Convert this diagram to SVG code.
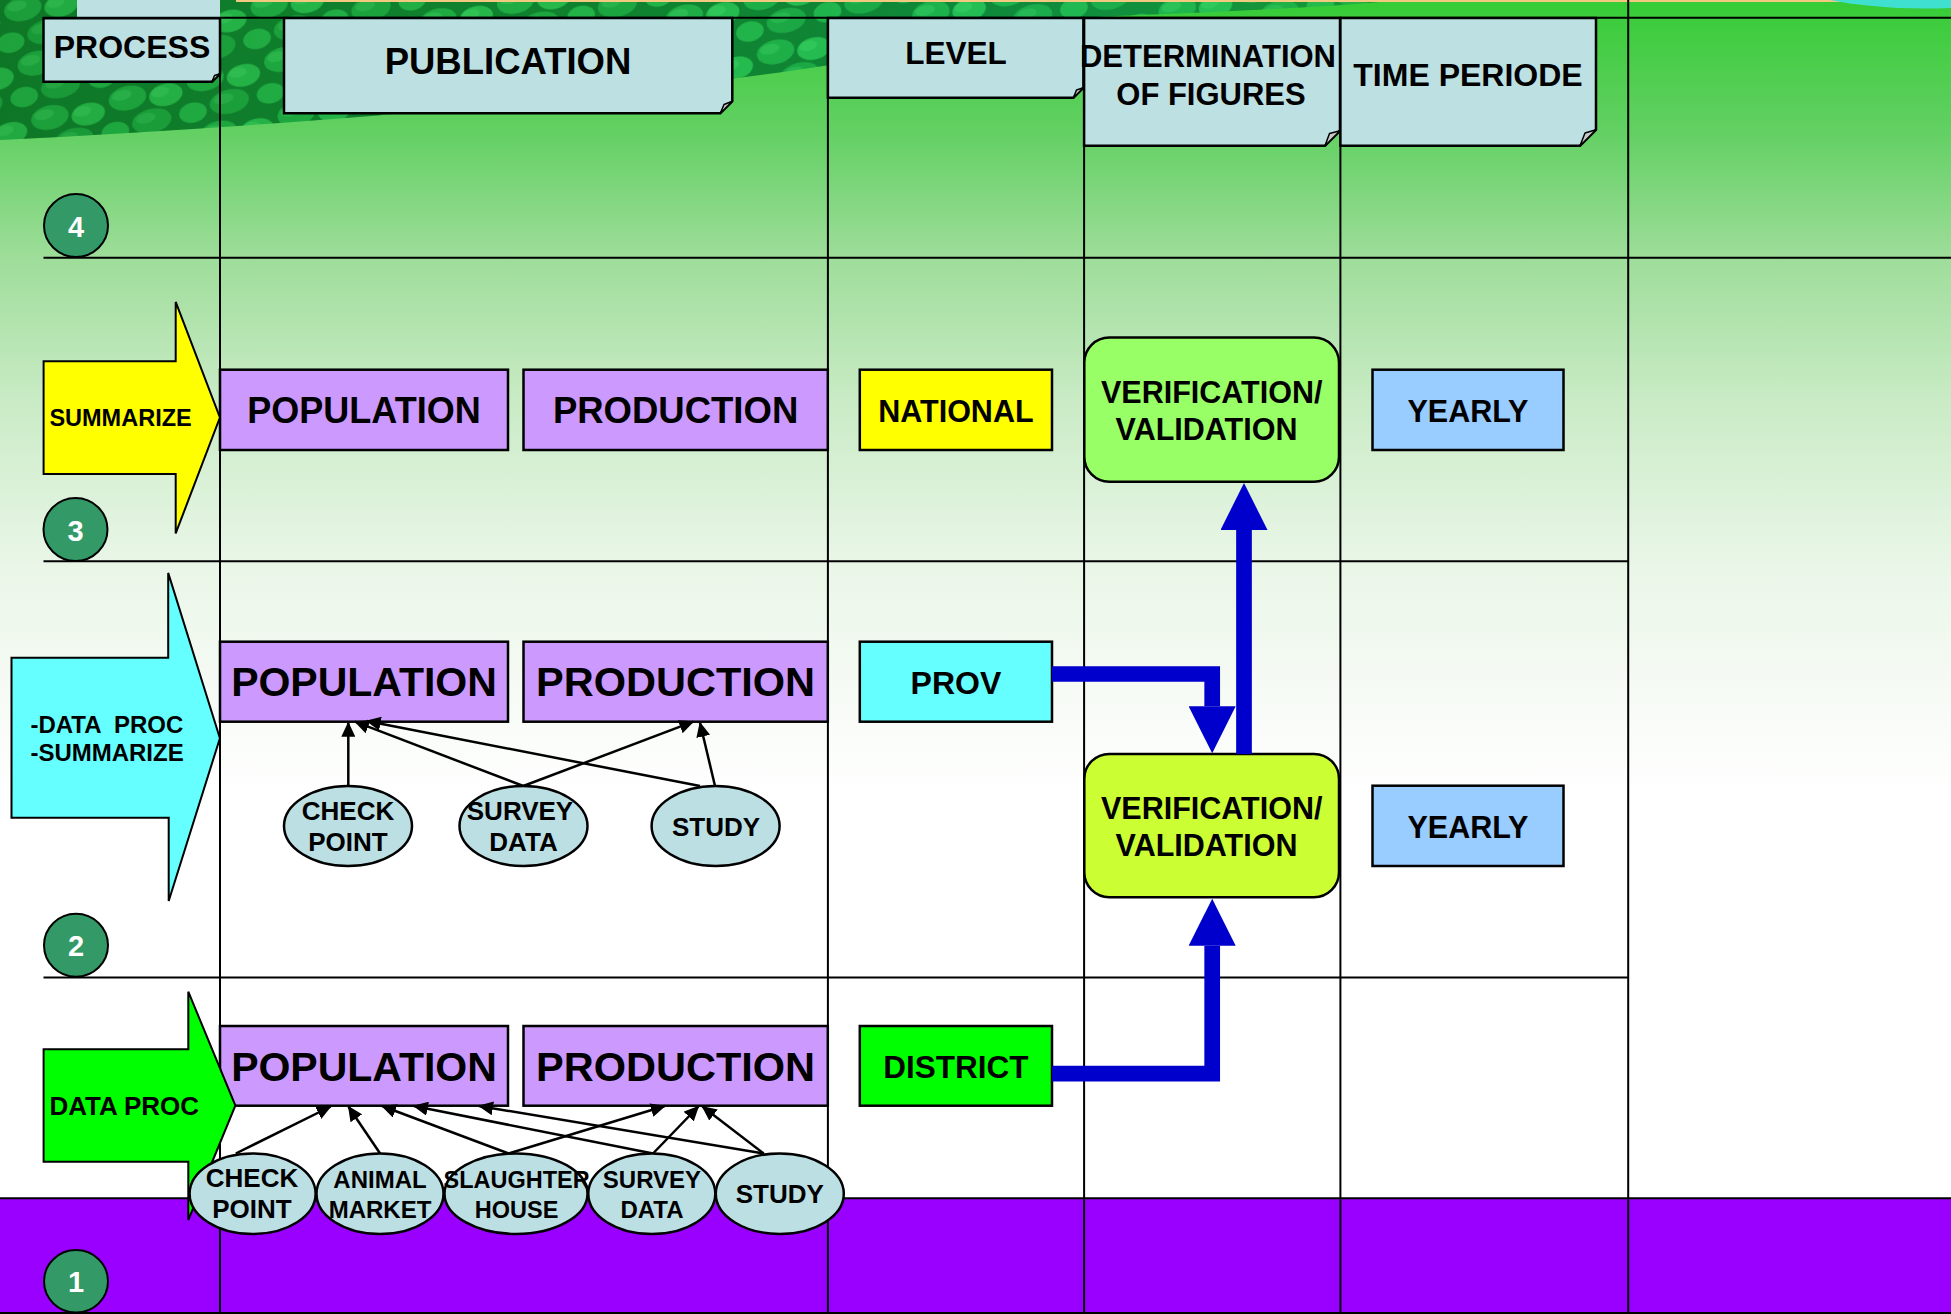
<svg xmlns="http://www.w3.org/2000/svg" width="1951" height="1314" viewBox="0 0 1951 1314">
<style>
.t{font-family:"Liberation Sans",Arial,Helvetica,sans-serif;font-weight:bold;fill:#000;text-anchor:middle}
.tl{text-anchor:start}
.w{fill:#fff}
.hdr{fill:#bde0e3;stroke:#000;stroke-width:2.5}
.fold{fill:#c8c8c8;stroke:#000;stroke-width:1.5;stroke-linejoin:round}
.pur{fill:#cc99ff;stroke:#000;stroke-width:2.5}
.ell{fill:#bcdfe3;stroke:#000;stroke-width:2.5}
.num{fill:#339966;stroke:#000;stroke-width:2}
.grid{stroke:#000;stroke-width:2;fill:none}
.box{stroke:#000;stroke-width:2.5}
.barrow{stroke:#000;stroke-width:2}
.thin{stroke:#000;stroke-width:2.5;fill:none;marker-end:url(#ah)}
.blue{stroke:#0000cc;stroke-width:15.7;fill:none;stroke-linejoin:miter;marker-end:url(#bh)}
</style>
<defs>
<linearGradient id="bg" gradientUnits="userSpaceOnUse" x1="0" y1="0" x2="0" y2="1314">
<stop offset="0" stop-color="#33cc33"/>
<stop offset="0.015" stop-color="#3dcc3d"/>
<stop offset="0.099" stop-color="#62d062"/>
<stop offset="0.196" stop-color="#9edd9a"/>
<stop offset="0.304" stop-color="#c9ebc5"/>
<stop offset="0.427" stop-color="#e9f6e7"/>
<stop offset="0.533" stop-color="#f7fbf6"/>
<stop offset="0.609" stop-color="#ffffff"/>
<stop offset="1" stop-color="#ffffff"/>
</linearGradient>
<pattern id="leaf" width="80" height="56" patternUnits="userSpaceOnUse" patternTransform="rotate(-14)">
<rect width="80" height="56" fill="#0e7a28"/>
<ellipse cx="20" cy="14" rx="19" ry="12" fill="#1faa3f"/>
<ellipse cx="58" cy="20" rx="17" ry="11" fill="#27b848"/>
<ellipse cx="38" cy="42" rx="20" ry="12" fill="#1ca23b"/>
<ellipse cx="0" cy="44" rx="14" ry="10" fill="#22b043"/>
<ellipse cx="80" cy="44" rx="14" ry="10" fill="#22b043"/>
<ellipse cx="15" cy="10" rx="10" ry="5" fill="#3fcf5e" opacity="0.45"/>
<ellipse cx="53" cy="16" rx="9" ry="5" fill="#45d663" opacity="0.4"/>
<ellipse cx="33" cy="38" rx="10" ry="5" fill="#3bc95a" opacity="0.4"/>
</pattern>
<linearGradient id="shade" x1="0" y1="0" x2="1" y2="0">
<stop offset="0" stop-color="#0b6a20" stop-opacity="0.2"/>
<stop offset="0.4" stop-color="#20c060" stop-opacity="0.1"/>
<stop offset="0.7" stop-color="#10e0a0" stop-opacity="0.15"/>
<stop offset="1" stop-color="#30d050" stop-opacity="0.35"/>
</linearGradient>
<marker id="ah" markerUnits="userSpaceOnUse" markerWidth="15" markerHeight="14" viewBox="0 0 15 14" refX="14" refY="7" orient="auto">
<path d="M0,0 L15,7 L0,14 Z" fill="#000"/>
</marker>
<marker id="bh" markerUnits="userSpaceOnUse" markerWidth="47" markerHeight="47" viewBox="0 0 47 47" refX="0" refY="23.5" orient="auto">
<path d="M0,0 L47,23.5 L0,47 Z" fill="#0000cc"/>
</marker>
</defs>

<g id="background">
<rect x="0" y="0" width="1951" height="1314" fill="url(#bg)"/>
<path d="M0,0 H1400 C1300,10 1150,14 1100,17 C1000,26 900,45 830,65 C600,100 300,125 0,140 Z" fill="url(#leaf)"/>
<path d="M0,0 H1400 C1300,10 1150,14 1100,17 C1000,26 900,45 830,65 C600,100 300,125 0,140 Z" fill="url(#shade)"/>
<rect x="236" y="0" width="1715" height="2" fill="#f2c97e"/>
<path d="M1830,0 H1951 V8 C1900,10 1860,6 1830,0 Z" fill="#3fe0d0"/>
<rect x="77" y="0" width="143" height="17" fill="#bde0e3"/>
<rect x="0" y="1198" width="1951" height="116" fill="#9900ff"/>
</g>

<g id="grid">
<line class="grid" x1="43.5" y1="17.7" x2="1951" y2="17.7" stroke-width="2.5"/>
<line class="grid" x1="43.5" y1="257.7" x2="1951" y2="257.7"/>
<line class="grid" x1="43.5" y1="561.3" x2="1628" y2="561.3"/>
<line class="grid" x1="43.5" y1="977.5" x2="1628" y2="977.5"/>
<line class="grid" x1="0" y1="1198.3" x2="1951" y2="1198.3" stroke-width="2.5"/>
<line class="grid" x1="0" y1="1313" x2="1951" y2="1313"/>
<line class="grid" x1="220" y1="17.7" x2="220" y2="1314"/>
<line class="grid" x1="827.9" y1="17.7" x2="827.9" y2="1314"/>
<line class="grid" x1="1084.1" y1="17.7" x2="1084.1" y2="1314"/>
<line class="grid" x1="1340.4" y1="17.7" x2="1340.4" y2="1314"/>
<line class="grid" x1="1628.2" y1="0" x2="1628.2" y2="1314"/>
</g>

<g id="hdr-process">
<path class="hdr" d="M43.5,18.3 H220 V73.7 L212,81.7 H43.5 Z"/>
<path class="fold" d="M212,81.7 L214.5,75.5 L220,73.7 Z"/>
<text class="t" x="132" y="58" font-size="32">PROCESS</text>
</g>
<g id="hdr-publication">
<path class="hdr" d="M284,18 H732.3 V101.3 L720.3,113.3 H284 Z"/>
<path class="fold" d="M720.3,113.3 L724,104.5 L732.3,101.3 Z"/>
<text class="t" x="508" y="74" font-size="36.5">PUBLICATION</text>
</g>
<g id="hdr-level">
<path class="hdr" d="M827.9,18 H1083.4 V87.7 L1073.4,97.7 H827.9 Z"/>
<path class="fold" d="M1073.4,97.7 L1076.5,90 L1083.4,87.7 Z"/>
<text class="t" x="956" y="64" font-size="31.5">LEVEL</text>
</g>
<g id="hdr-determination">
<path class="hdr" d="M1084.1,18 H1340 V130.7 L1325,145.7 H1084.1 Z"/>
<path class="fold" d="M1325,145.7 L1329.5,133.5 L1340,130.7 Z"/>
<text class="t" x="1208" y="67" font-size="31">DETERMINATION</text>
<text class="t" x="1211" y="105" font-size="31">OF FIGURES</text>
</g>
<g id="hdr-time">
<path class="hdr" d="M1340.4,18 H1596 V129.7 L1580,145.7 H1340.4 Z"/>
<path class="fold" d="M1580,145.7 L1585,133 L1596,129.7 Z"/>
<text class="t" x="1468" y="86" font-size="32">TIME PERIODE</text>
</g>

<g id="num4"><ellipse class="num" cx="76" cy="225.5" rx="32" ry="31.5"/><text class="t w" x="76" y="236.5" font-size="29">4</text></g>
<g id="num3"><ellipse class="num" cx="75.5" cy="529.5" rx="32" ry="31.5"/><text class="t w" x="75.5" y="540.5" font-size="29">3</text></g>
<g id="num2"><ellipse class="num" cx="76" cy="945.2" rx="32" ry="31.5"/><text class="t w" x="76" y="956.2" font-size="29">2</text></g>
<g id="num1"><ellipse class="num" cx="76" cy="1281.3" rx="32" ry="31.3"/><text class="t w" x="76" y="1292.3" font-size="29">1</text></g>

<g id="row3-pop"><rect class="pur" x="220" y="369.7" width="288" height="80.3"/><text class="t" x="364" y="423.2" font-size="36">POPULATION</text></g>
<g id="row3-prod"><rect class="pur" x="523.5" y="369.7" width="304.3" height="80.3"/><text class="t" x="675.6" y="423.2" font-size="36.5">PRODUCTION</text></g>
<g id="row2-pop"><rect class="pur" x="220" y="641.7" width="288" height="80"/><text class="t" x="364" y="696" font-size="41">POPULATION</text></g>
<g id="row2-prod"><rect class="pur" x="523.5" y="641.7" width="304.3" height="80"/><text class="t" x="675.6" y="696" font-size="41.5">PRODUCTION</text></g>
<g id="row1-pop"><rect class="pur" x="220" y="1026" width="288" height="79.7"/><text class="t" x="364" y="1080.7" font-size="41">POPULATION</text></g>
<g id="row1-prod"><rect class="pur" x="523.5" y="1026" width="304.3" height="79.7"/><text class="t" x="675.6" y="1080.7" font-size="41.5">PRODUCTION</text></g>

<g id="arrow-summarize">
<path class="barrow" fill="#ffff00" d="M43.6,361.2 H175.7 V301.9 L219.9,417.5 L175.7,533.4 V474.1 H43.6 Z"/>
<text class="t tl" x="49.4" y="426.3" font-size="23.5">SUMMARIZE</text>
</g>
<g id="arrow-dataproc-summarize">
<path class="barrow" fill="#66ffff" d="M11.5,657.8 H168.2 V572.9 L219.9,738.2 L168.7,901 V817.8 H11.5 Z"/>
<text class="t tl" x="30.4" y="732.5" font-size="24" xml:space="preserve">-DATA  PROC</text>
<text class="t tl" x="30.4" y="761.2" font-size="24">-SUMMARIZE</text>
</g>
<g id="arrow-dataproc">
<path class="barrow" fill="#00ff00" d="M43.6,1049.3 H188.3 V991.7 L235.4,1105.5 L188.3,1220 V1161.7 H43.6 Z"/>
<text class="t tl" x="49.4" y="1115" font-size="26">DATA PROC</text>
</g>

<g id="national"><rect class="box" fill="#ffff00" x="859.8" y="369.7" width="192.2" height="80.3"/><text class="t" x="955.9" y="422" font-size="30.5">NATIONAL</text></g>
<g id="prov"><rect class="box" fill="#66ffff" x="859.8" y="641.7" width="192.2" height="80"/><text class="t" x="955.9" y="694.2" font-size="32">PROV</text></g>
<g id="district"><rect class="box" fill="#00ff00" x="859.8" y="1026" width="192.2" height="79.7"/><text class="t" x="955.9" y="1078" font-size="31.5">DISTRICT</text></g>

<g id="verif-top"><rect class="box" fill="#99ff66" x="1084.3" y="337.5" width="254.7" height="144.3" rx="25" ry="25"/>
<text class="t" x="1211.7" y="402.6" font-size="30.5">VERIFICATION/</text>
<text class="t" x="1206.5" y="440" font-size="30.5">VALIDATION</text></g>
<g id="verif-bottom"><rect class="box" fill="#ccff33" x="1084.3" y="753.9" width="254.7" height="143.4" rx="25" ry="25"/>
<text class="t" x="1211.7" y="818.6" font-size="30.5">VERIFICATION/</text>
<text class="t" x="1206.5" y="855.7" font-size="30.5">VALIDATION</text></g>

<g id="yearly-top"><rect class="box" fill="#99ccff" x="1372.5" y="369.7" width="191" height="80.3"/><text class="t" x="1468" y="421.7" font-size="30.5">YEARLY</text></g>
<g id="yearly-bottom"><rect class="box" fill="#99ccff" x="1372.5" y="785.7" width="191" height="80.3"/><text class="t" x="1468" y="837.7" font-size="30.5">YEARLY</text></g>

<g id="connectors">
<line class="thin" x1="348.3" y1="786" x2="348.3" y2="722.7"/>
<line class="thin" x1="523.3" y1="786" x2="355" y2="721.7"/>
<line class="thin" x1="700" y1="786" x2="366.7" y2="721"/>
<line class="thin" x1="523.3" y1="786" x2="693.3" y2="721.7"/>
<line class="thin" x1="715" y1="786" x2="700" y2="722.7"/>
<line class="thin" x1="235.8" y1="1153.5" x2="330.7" y2="1106.5"/>
<line class="thin" x1="380.1" y1="1153.5" x2="348.5" y2="1106.7"/>
<line class="thin" x1="508.6" y1="1153.5" x2="382.1" y2="1106"/>
<line class="thin" x1="508.6" y1="1153.5" x2="664.8" y2="1106"/>
<line class="thin" x1="653" y1="1153.5" x2="413.8" y2="1106"/>
<line class="thin" x1="653" y1="1153.5" x2="698.4" y2="1106.5"/>
<line class="thin" x1="763.7" y1="1153.5" x2="479" y2="1106"/>
<line class="thin" x1="763.7" y1="1153.5" x2="702.4" y2="1106.5"/>
<path class="blue" d="M1052,674 H1212.2 V706.3"/>
<path class="blue" d="M1052,1073.7 H1212.2 V945.7"/>
<path class="blue" d="M1244,754 V530"/>
</g>

<g id="r2-checkpoint"><ellipse class="ell" cx="348" cy="826" rx="64" ry="40"/><text class="t" x="348" y="819.7" font-size="26">CHECK</text><text class="t" x="348" y="851" font-size="26">POINT</text></g>
<g id="r2-surveydata"><ellipse class="ell" cx="523.5" cy="826" rx="64" ry="40"/><text class="t" x="520" y="819.7" font-size="26">SURVEY</text><text class="t" x="523.5" y="851" font-size="26">DATA</text></g>
<g id="r2-study"><ellipse class="ell" cx="715.6" cy="826" rx="64" ry="40"/><text class="t" x="716" y="835.8" font-size="26">STUDY</text></g>

<g id="r1-checkpoint"><ellipse class="ell" cx="252.6" cy="1193.7" rx="63" ry="40.3"/><text class="t" x="252" y="1187" font-size="26">CHECK</text><text class="t" x="252" y="1218.3" font-size="26">POINT</text></g>
<g id="r1-animalmarket"><ellipse class="ell" cx="380" cy="1193.7" rx="63.5" ry="40.3"/><text class="t" x="380" y="1188" font-size="24">ANIMAL</text><text class="t" x="380" y="1217.7" font-size="24">MARKET</text></g>
<g id="r1-slaughterhouse"><ellipse class="ell" cx="516" cy="1193.7" rx="71.5" ry="40.3"/><text class="t" x="516.6" y="1188" font-size="23.5">SLAUGHTER</text><text class="t" x="516.6" y="1217.7" font-size="23.5">HOUSE</text></g>
<g id="r1-surveydata"><ellipse class="ell" cx="651.8" cy="1193.7" rx="63.5" ry="40.3"/><text class="t" x="652" y="1188" font-size="24">SURVEY</text><text class="t" x="652" y="1217.7" font-size="24">DATA</text></g>
<g id="r1-study"><ellipse class="ell" cx="779.8" cy="1193.7" rx="64" ry="40.3"/><text class="t" x="779.8" y="1202.7" font-size="26">STUDY</text></g>
</svg>
